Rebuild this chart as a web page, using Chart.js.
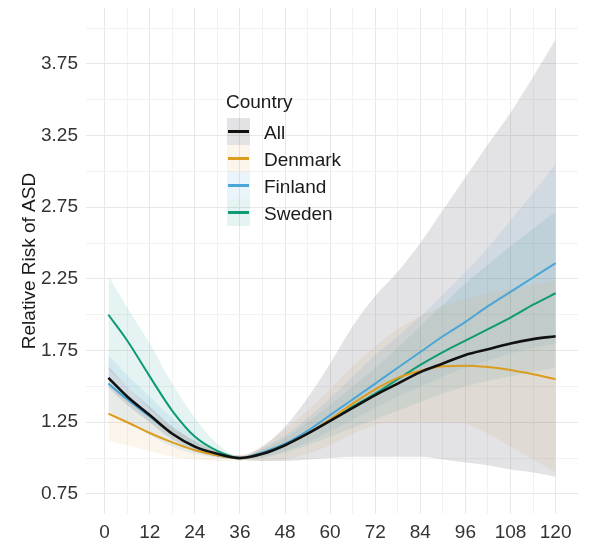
<!DOCTYPE html>
<html>
<head>
<meta charset="utf-8">
<script src="https://cdn.jsdelivr.net/npm/chart.js@4.4.1/dist/chart.umd.min.js"></script>
<style>
  html, body { margin: 0; padding: 0; background: #fff; }
  #wrap { width: 600px; height: 546px; }
</style>
</head>
<body>
<div id="wrap"><canvas id="riskChart" width="600" height="546"></canvas></div>
<script>
// months since previous birth
const months = [1, 6, 12, 18, 24, 30, 36, 42, 48, 54, 60, 66, 72, 78, 84, 90, 96, 102, 108, 114, 120];

const allRisk = [1.56, 1.43, 1.30, 1.17, 1.08, 1.03, 1.00, 1.03, 1.09, 1.17, 1.26, 1.35, 1.44, 1.52, 1.60, 1.66, 1.72, 1.76, 1.80, 1.83, 1.85];
const allLow  = [1.49, 1.37, 1.25, 1.13, 1.05, 1.01, 0.99, 0.98, 0.98, 0.99, 1.00, 1.01, 1.01, 1.01, 1.01, 0.99, 0.97, 0.95, 0.92, 0.90, 0.87];
const allHigh = [1.64, 1.50, 1.36, 1.22, 1.12, 1.05, 1.02, 1.08, 1.22, 1.42, 1.66, 1.92, 2.13, 2.30, 2.50, 2.73, 2.96, 3.19, 3.41, 3.66, 3.92];

const denRisk = [1.31, 1.25, 1.175, 1.11, 1.055, 1.02, 1.00, 1.03, 1.09, 1.17, 1.27, 1.38, 1.48, 1.56, 1.61, 1.64, 1.645, 1.635, 1.615, 1.585, 1.55];
const denLow  = [1.12, 1.09, 1.05, 1.01, 0.99, 0.98, 0.98, 0.98, 0.99, 1.03, 1.09, 1.17, 1.23, 1.25, 1.25, 1.25, 1.24, 1.17, 1.08, 0.99, 0.90];
const denHigh = [1.52, 1.42, 1.31, 1.21, 1.12, 1.05, 1.02, 1.09, 1.20, 1.33, 1.48, 1.64, 1.78, 1.90, 1.99, 2.06, 2.11, 2.15, 2.18, 2.21, 2.24];

const finRisk = [1.52, 1.41, 1.29, 1.17, 1.08, 1.02, 1.00, 1.04, 1.10, 1.19, 1.30, 1.41, 1.52, 1.63, 1.74, 1.85, 1.95, 2.06, 2.16, 2.26, 2.36];
const finLow  = [1.33, 1.25, 1.16, 1.08, 1.03, 1.00, 0.99, 1.01, 1.05, 1.11, 1.19, 1.27, 1.35, 1.43, 1.50, 1.57, 1.63, 1.68, 1.73, 1.77, 1.80];
const finHigh = [1.72, 1.58, 1.43, 1.28, 1.15, 1.05, 1.01, 1.07, 1.16, 1.28, 1.42, 1.57, 1.72, 1.85, 1.99, 2.14, 2.30, 2.47, 2.66, 2.85, 3.05];

const sweRisk = [2.00, 1.82, 1.57, 1.33, 1.15, 1.05, 1.00, 1.03, 1.09, 1.17, 1.26, 1.36, 1.45, 1.55, 1.65, 1.74, 1.82, 1.90, 1.98, 2.07, 2.15];
const sweLow  = [1.62, 1.50, 1.34, 1.18, 1.06, 1.01, 0.99, 1.00, 1.04, 1.09, 1.15, 1.21, 1.27, 1.33, 1.39, 1.45, 1.50, 1.54, 1.57, 1.60, 1.63];
const sweHigh = [2.27, 2.05, 1.80, 1.52, 1.28, 1.10, 1.01, 1.06, 1.14, 1.25, 1.37, 1.50, 1.63, 1.77, 1.92, 2.07, 2.22, 2.35, 2.48, 2.60, 2.72];

const countries = ['All', 'Denmark', 'Finland', 'Sweden'];
const lineColors = ['#111111', '#DC9C1E', '#4AA6D6', '#0E9A72'];
const bandColors = ['rgba(115,112,125,0.20)', 'rgba(215,160,60,0.10)', 'rgba(86,170,225,0.13)', 'rgba(40,165,150,0.12)'];

// axis ticks
const xGrid = [0, 6, 12, 18, 24, 30, 36, 42, 48, 54, 60, 66, 72, 78, 84, 90, 96, 102, 108, 114, 120];
const xLabels = [0, 12, 24, 36, 48, 60, 72, 84, 96, 108, 120];
const yGrid = [0.75, 1.0, 1.25, 1.5, 1.75, 2.0, 2.25, 2.5, 2.75, 3.0, 3.25, 3.5, 3.75, 4.0];
const yLabels = [0.75, 1.25, 1.75, 2.25, 2.75, 3.25, 3.75];

const FONT = '"Liberation Sans", Arial, sans-serif';

const series = [
    { risk: allRisk, low: allLow, high: allHigh },
    { risk: denRisk, low: denLow, high: denHigh },
    { risk: finRisk, low: finLow, high: finHigh },
    { risk: sweRisk, low: sweLow, high: sweHigh }
];

const toPoints = arr => months.map((m, i) => ({ x: m, y: arr[i] }));

const datasets = [];
// bands first (pairs: lower, upper filled to lower)
series.forEach((s, i) => {
    datasets.push({
        label: countries[i] + ' low',
        data: toPoints(s.low),
        borderColor: 'transparent',
        borderWidth: 0,
        pointRadius: 0,
        fill: false,
        cubicInterpolationMode: 'monotone',
        order: 2
    });
    datasets.push({
        label: countries[i] + ' high',
        data: toPoints(s.high),
        borderColor: 'transparent',
        borderWidth: 0,
        pointRadius: 0,
        backgroundColor: bandColors[i],
        fill: '-1',
        cubicInterpolationMode: 'monotone',
        order: 2
    });
});
// then the estimate lines, drawn on top
series.forEach((s, i) => {
    datasets.push({
        label: countries[i],
        data: toPoints(s.risk),
        borderColor: lineColors[i],
        borderWidth: i === 0 ? 2.6 : 2,
        pointRadius: 0,
        fill: false,
        cubicInterpolationMode: 'monotone',
        order: i === 0 ? 0 : 1
    });
});

// legend drawn inside the panel, like the original
const countryLegend = {
    id: 'countryLegend',
    afterDatasetsDraw(chart) {
        const ctx = chart.ctx;
        ctx.save();
        ctx.font = '19px ' + FONT;
        ctx.fillStyle = '#1a1a1a';
        ctx.textBaseline = 'alphabetic';
        ctx.fillText('Country', 226, 108);
        countries.forEach((name, i) => {
            const top = 118 + i * 27;
            ctx.fillStyle = bandColors[i];
            ctx.fillRect(227, top, 23, 27);
            ctx.strokeStyle = lineColors[i];
            ctx.lineWidth = 3;
            ctx.beginPath();
            ctx.moveTo(228, top + 13.5);
            ctx.lineTo(249, top + 13.5);
            ctx.stroke();
            ctx.fillStyle = '#1a1a1a';
            ctx.fillText(name, 264, top + 20.5);
        });
        ctx.restore();
    }
};

new Chart(document.getElementById('riskChart').getContext('2d'), {
    type: 'line',
    data: { datasets },
    options: {
        responsive: false,
        animation: false,
        layout: { padding: { top: 8, right: 22, left: 0, bottom: 0 } },
        plugins: {
            legend: { display: false },
            tooltip: { enabled: false }
        },
        scales: {
            x: {
                type: 'linear',
                min: -4.95,
                max: 125.95,
                afterBuildTicks: axis => { axis.ticks = xGrid.map(v => ({ value: v })); },
                afterFit: axis => { axis.height = 32; },
                border: { display: false },
                grid: {
                    drawTicks: false,
                    color: c => xLabels.includes(c.tick.value) ? '#e8e8e8' : '#f2f2f2'
                },
                ticks: {
                    autoSkip: false,
                    maxRotation: 0,
                    padding: 7,
                    color: '#333333',
                    font: { family: FONT, size: 19 },
                    callback: v => xLabels.includes(v) ? String(v) : ''
                }
            },
            y: {
                type: 'linear',
                min: 0.61,
                max: 4.14,
                afterBuildTicks: axis => { axis.ticks = yGrid.map(v => ({ value: v })); },
                afterFit: axis => {
                    axis.width = 86;
                    axis.paddingTop = 0;
                    axis.paddingBottom = 0;
                },
                border: { display: false },
                grid: {
                    drawTicks: false,
                    color: c => yLabels.includes(c.tick.value) ? '#e8e8e8' : '#f2f2f2'
                },
                ticks: {
                    autoSkip: false,
                    padding: 8,
                    color: '#333333',
                    font: { family: FONT, size: 19 },
                    callback: v => yLabels.includes(v) ? v.toFixed(2) : ''
                },
                title: {
                    display: true,
                    text: 'Relative Risk of ASD',
                    color: '#1a1a1a',
                    font: { family: FONT, size: 19 },
                    padding: { top: 18, bottom: 0 }
                }
            }
        }
    },
    plugins: [countryLegend]
});
</script>
</body>
</html>
